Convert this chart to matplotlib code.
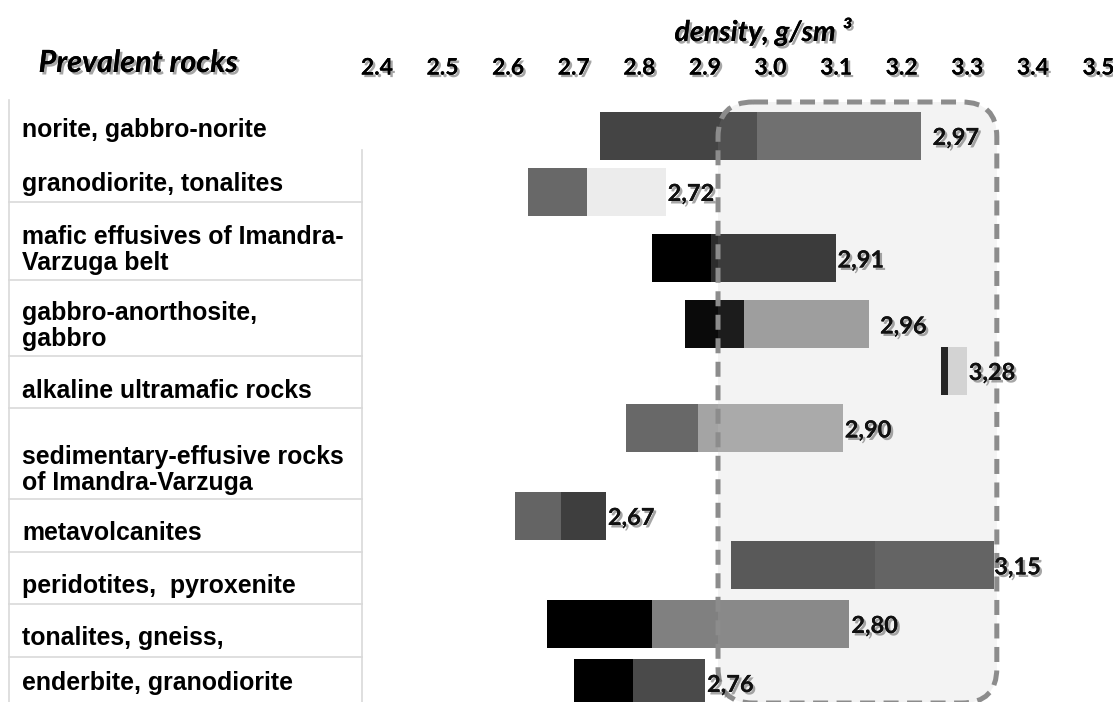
import numpy as np
import matplotlib
matplotlib.use('Agg')
import matplotlib.pyplot as plt
from matplotlib.patches import FancyBboxPatch
import matplotlib.patheffects as pe

# rock groups (table rows), density min / mean / max and printed mean
rocks = ["norite, gabbro-norite",
         "granodiorite, tonalites",
         "mafic effusives of Imandra-\nVarzuga belt",
         "gabbro-anorthosite,\ngabbro",
         "alkaline ultramafic rocks",
         "sedimentary-effusive rocks\nof Imandra-Varzuga",
         "metavolcanites",
         "peridotites,  pyroxenite",
         "tonalites, gneiss,",
         "enderbite, granodiorite"]
d_min = [2.74, 2.63, 2.82, 2.87, 3.26, 2.78, 2.61, 2.94, 2.66, 2.70]
d_mid = [2.98, 2.72, 2.91, 2.96, 3.27, 2.89, 2.68, 3.16, 2.82, 2.79]
d_max = [3.23, 2.84, 3.10, 3.15, 3.30, 3.11, 2.75, 3.34, 3.12, 2.90]
d_label = ["2,97", "2,72", "2,91", "2,96", "3,28", "2,90", "2,67", "3,15", "2,80", "2,76"]
ticks = [2.4, 2.5, 2.6, 2.7, 2.8, 2.9, 3.0, 3.1, 3.2, 3.3, 3.4, 3.5]
box_range = (2.92, 3.345)  # highlighted density window

# styles / layout (pixels)
W, H = 1113, 702
PX = 656.0  # pixels per density unit
c_lo = ['#444444', '#686868', '#000000', '#0a0a0a', '#141414',
        '#686868', '#646464', '#4c4c4c', '#000000', '#000000']
c_hi = ['#656565', '#ececec', '#2c2c2c', '#979797', '#d1d1d1',
        '#a4a4a4', '#3e3e3e', '#585858', '#808080', '#4a4a4a']
bar_y = [135.5, 191.5, 258, 324, 370.5, 428, 515.5, 565, 623.5, 682.5]
label_gap = [8, 1.5, 1, 8, 1, 1.5, 1, 0.5, 1.5, 1.5]  # points
row_base = [137, 191, 244, 320, 398, 464, 540, 593, 645, 690]
row_lines = [202, 280, 356, 408, 499, 552, 604, 657]

shadow = [pe.withSimplePatchShadow(offset=(1.8, -1.8), shadow_rgbFace='#777777', alpha=0.65),
          pe.Normal()]

fig = plt.figure(figsize=(W / 100, H / 100), dpi=100)

# left table
ax_t = fig.add_axes([0, 0, 1, 1])
ax_t.set_xlim(0, W)
ax_t.set_ylim(H, 0)
ax_t.axis('off')
grid_c = '#d9d9d9'
ax_t.plot([9, 9], [100, H], color=grid_c, lw=1.2)
ax_t.plot([362, 362], [150, H], color=grid_c, lw=1.2)
for y in row_lines:
    ax_t.plot([9, 362], [y, y], color=grid_c, lw=1.2)
for name, yb in zip(rocks, row_base):
    for k, line in enumerate(name.split('\n')):
        ax_t.text(22, yb + 26 * k, line, va='baseline', ha='left', fontsize=17.9,
                  fontweight='bold', family=['Liberation Sans', 'DejaVu Sans'], color='black')

ax_t.text(138, 72, 'Prevalent rocks', ha='center', va='baseline', fontsize=22,
          fontweight='bold', fontstyle='italic', family='Lato', path_effects=shadow)
ax_t.text(763, 41, 'density, g/sm \u00b3', ha='center', va='baseline', fontsize=20.5,
          fontweight='bold', fontstyle='italic', family='Lato', path_effects=shadow)

# bars
x0_px = 370
ax = fig.add_axes([x0_px / W, 0, (W - x0_px) / W, (H - 80) / H])
ax.set_xlim(2.4 + (x0_px - 376.9) / PX, 2.4 + (W - 376.9) / PX)
ax.set_ylim(H, 80)
ax.patch.set_alpha(0)
for s in ax.spines.values():
    s.set_visible(False)
ax.set_yticks([])
ax.xaxis.tick_top()
ax.set_xticks(ticks)
ax.set_xticklabels(['%.1f' % t for t in ticks])
ax.tick_params(axis='x', length=0, pad=1)
for lbl in ax.get_xticklabels():
    lbl.set_fontsize(16.5)
    lbl.set_fontweight('bold')
    lbl.set_family('Lato')
    lbl.set_path_effects(shadow)

rs = 35 / PX
bx = (box_range[0], 102)
bw, bh = box_range[1] - box_range[0], 703 - 102
ax.add_patch(FancyBboxPatch(bx, bw, bh, boxstyle=f"round,pad=0,rounding_size={rs}",
                            mutation_aspect=PX, facecolor='#f3f3f3', edgecolor='none',
                            zorder=1, clip_on=False))

lo = np.array(d_min)
mid = np.array(d_mid)
hi = np.array(d_max)
ax.barh(bar_y, mid - lo, left=lo, height=48, color=c_lo, zorder=2)
ax.barh(bar_y, hi - mid, left=mid, height=48, color=c_hi, zorder=2)

ax.add_patch(FancyBboxPatch(bx, bw, bh, boxstyle=f"round,pad=0,rounding_size={rs}",
                            mutation_aspect=PX, facecolor=(0.953, 0.953, 0.953, 0.08),
                            edgecolor='#8c8c8c', lw=3.6, linestyle=(0, (3, 1.7)),
                            zorder=3, clip_on=False))

for x, y, txt, g in zip(hi, bar_y, d_label, label_gap):
    ax.annotate(txt, (x, y + 2), xytext=(g, 0), textcoords='offset points',
                ha='left', va='center', fontsize=17, fontweight='bold', family='Lato',
                color='#111111', path_effects=shadow, zorder=4, annotation_clip=False)

fig.savefig('out.png', dpi=100)
